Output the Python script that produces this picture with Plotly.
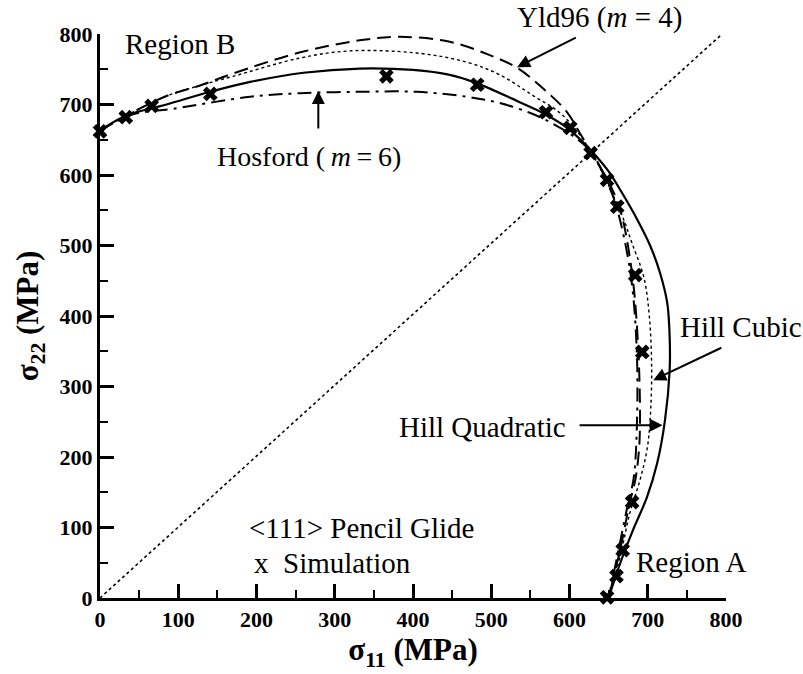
import plotly.graph_objects as go

# ---- data (MPa) ----
sim_x = [0, 33, 66, 141, 366, 482, 570, 601, 627, 648, 661, 684, 693, 680, 668, 660, 648]
sim_y = [662, 682, 698, 715, 740, 728, 689, 667, 631, 593, 555, 458, 349, 136, 68, 31, 1]

hill_quad_x = [0, 33, 85, 141, 192, 260, 332, 400, 447, 482, 533, 566, 597, 616, 633, 650, 668, 686, 703, 716, 725, 728, 728, 722, 712, 699, 681, 665, 650]
hill_quad_y = [663, 684, 700, 718, 732, 745, 751, 749, 742, 730, 705, 688, 667, 648, 628, 605, 573, 538, 500, 460, 418, 370, 323, 252, 191, 143, 96, 50, 0]

hill_cubic_x = [0, 33, 85, 128, 170, 256, 319, 405, 469, 511, 553, 592, 628, 668, 680, 695, 702, 705, 703, 699, 690, 677, 665, 650]
hill_cubic_y = [663, 684, 712, 727, 740, 766, 776, 773, 760, 742, 713, 684, 632, 540, 503, 455, 400, 323, 252, 210, 167, 120, 60, 0]

yld96_x = [0, 33, 85, 128, 170, 256, 332, 383, 447, 498, 533, 566, 597, 613, 628, 650, 665, 680, 688, 690, 688, 684, 677, 665, 650]
yld96_y = [663, 684, 712, 727, 744, 774, 791, 796, 789, 770, 752, 723, 689, 660, 632, 590, 550, 460, 350, 240, 200, 167, 135, 70, 0]

hosford_x = [0, 42, 94, 192, 256, 332, 405, 469, 511, 550, 575, 605, 628, 648, 660, 678, 686, 686, 682, 674, 663, 650]
hosford_y = [663, 686, 694, 711, 716, 718, 718, 711, 702, 688, 675, 655, 632, 590, 555, 460, 350, 240, 170, 130, 70, 0]

diag_x = [0, 795]
diag_y = [0, 800]

x_ticks = [0, 100, 200, 300, 400, 500, 600, 700, 800]
y_ticks = [0, 100, 200, 300, 400, 500, 600, 700, 800]

FONT = "Liberation Serif, Times New Roman, Times, serif"

fig = go.Figure()

fig.add_trace(go.Scatter(x=diag_x, y=diag_y, mode="lines",
                         line=dict(color="black", width=1.6, dash="dot"), showlegend=False))
fig.add_trace(go.Scatter(x=hill_cubic_x, y=hill_cubic_y, mode="lines",
                         line=dict(color="black", width=1.4, dash="dot", shape="spline", smoothing=1.0),
                         showlegend=False))
fig.add_trace(go.Scatter(x=yld96_x, y=yld96_y, mode="lines",
                         line=dict(color="black", width=2, dash="14px,7px", shape="spline", smoothing=1.0),
                         showlegend=False))
fig.add_trace(go.Scatter(x=hosford_x, y=hosford_y, mode="lines",
                         line=dict(color="black", width=2, dash="14px,6px,3px,6px", shape="spline", smoothing=1.0),
                         showlegend=False))
fig.add_trace(go.Scatter(x=hill_quad_x, y=hill_quad_y, mode="lines",
                         line=dict(color="black", width=2.2, shape="spline", smoothing=1.0),
                         showlegend=False))
fig.add_trace(go.Scatter(x=sim_x, y=sim_y, mode="markers", cliponaxis=False,
                         marker=dict(symbol="x", size=13, color="black", line=dict(width=0)),
                         showlegend=False))

def ann_font(size=29):
    return dict(family=FONT, size=size, color="black")

def text(x, y, s, xanchor="left", size=29):
    fig.add_annotation(x=x, y=y, xref="x", yref="y", text=s, showarrow=False,
                       xanchor=xanchor, yanchor="middle", font=ann_font(size))

def arrow(x0, y0, x1, y1):
    fig.add_annotation(x=x1, y=y1, ax=x0, ay=y0, xref="x", yref="y", axref="x", ayref="y",
                       text="", showarrow=True, arrowhead=2, arrowsize=1.3, arrowwidth=2,
                       arrowcolor="black")

text(29, 786, "Region B")
fig.add_annotation(x=0.663, y=1.03, xref="paper", yref="paper", text="Yld96 (<i>m</i> = 4)",
                   showarrow=False, xanchor="left", yanchor="middle", font=ann_font(29))
text(147, 626, "Hosford (\u2009<i>m</i>\u2009=\u20096)", size=28)
text(739, 384, "Hill Cubic")
text(598, 243, "Hill Quadratic", xanchor="right")
text(188, 99, "&lt;111&gt; Pencil Glide")
text(194, 50, "x  Simulation")
text(682, 51, "Region A")

arrow(610, 796, 533, 753)
arrow(279, 664, 279, 719)
arrow(796, 356, 707, 309)
arrow(611, 245, 719, 245)

axis_common = dict(
    showline=True, linecolor="black", linewidth=3, mirror=False,
    ticks="inside", ticklen=14, tickwidth=2.5, tickcolor="black",
    showgrid=False, zeroline=False,
    tickfont=dict(family=FONT, size=22, color="black"),
    minor=dict(ticks="inside", ticklen=8, tickwidth=2, tickcolor="black", dtick=50, showgrid=False),
)

fig.update_xaxes(range=[0, 800], tickvals=x_ticks, ticktext=[f"<b>{v}</b>" for v in x_ticks],
                 title=dict(text="<b>σ<sub>11</sub> (MPa)</b>", font=dict(family=FONT, size=31, color="black"), standoff=6),
                 **axis_common)
fig.update_yaxes(range=[0, 800], tickvals=y_ticks, ticktext=[f"<b>{v}</b>" for v in y_ticks],
                 title=dict(text="<b>σ<sub>22</sub> (MPa)</b>", font=dict(family=FONT, size=31, color="black"), standoff=12),
                 **axis_common)

fig.update_layout(
    width=803, height=674,
    margin=dict(l=100, r=77, t=34, b=76),
    paper_bgcolor="white", plot_bgcolor="white",
    showlegend=False,
)

fig.write_html("out.html")
